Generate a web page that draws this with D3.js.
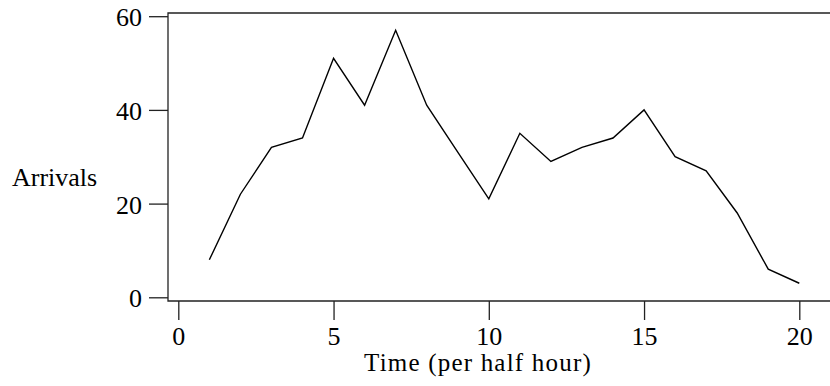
<!DOCTYPE html>
<html>
<head>
<meta charset="utf-8">
<script src="https://cdn.jsdelivr.net/npm/d3@7"></script>
<style>
  body { margin: 0; background: #fff; }
  svg text { font-family: "Liberation Serif", "Times New Roman", serif; fill: #000; }
</style>
</head>
<body>
<div id="chart"></div>
<script>
// data
const periods = [1, 2, 3, 4, 5, 6, 7, 8, 9, 10, 11, 12, 13, 14, 15, 16, 17, 18, 19, 20];
const arrivals = [8, 22, 32, 34, 51, 41, 57, 41, 31, 21, 35, 29, 32, 34, 40, 30, 27, 18, 6, 3];
const xTicks = [0, 5, 10, 15, 20];
const yTicks = [0, 20, 40, 60];
const xLabel = "Time (per half hour)";
const yLabel = "Arrivals";

const width = 830, height = 386;
const frame = { left: 168, top: 13, bottom: 301 };

const x = d3.scaleLinear().domain([0, 20]).range([178.3, 799.3]);
const y = d3.scaleLinear().domain([0, 60]).range([297.3, 16.2]);

const svg = d3.select("#chart").append("svg")
  .attr("width", width)
  .attr("height", height);

// frame: left, top and bottom sides (right side runs off the canvas)
svg.append("path")
  .attr("d", "M" + width + "," + frame.top + "H" + frame.left + "V" + frame.bottom + "H" + width)
  .attr("fill", "none")
  .attr("stroke", "#222")
  .attr("stroke-width", 1.3);

const xAxis = d3.axisBottom(x).tickValues(xTicks).tickSize(19).tickFormat(d3.format("d"));
const yAxis = d3.axisLeft(y).tickValues(yTicks).tickSize(19).tickFormat(d3.format("d"));

const gx = svg.append("g")
  .attr("transform", "translate(0," + frame.bottom + ")")
  .call(xAxis);
gx.select(".domain").remove();
gx.selectAll("line").attr("stroke", "#222").attr("stroke-width", 1.3);
gx.selectAll("text")
  .attr("y", 44).attr("dy", 0)
  .style("font-size", "26px")
  .style("font-family", "'Liberation Serif', serif")
  .attr("fill", "#000");

const gy = svg.append("g")
  .attr("transform", "translate(" + frame.left + ",0)")
  .call(yAxis);
gy.select(".domain").remove();
gy.selectAll("line").attr("stroke", "#222").attr("stroke-width", 1.3);
gy.selectAll("text")
  .attr("x", -26).attr("dy", "0.37em")
  .style("font-size", "26px")
  .style("font-family", "'Liberation Serif', serif")
  .attr("fill", "#000");

// arrivals line
const line = d3.line()
  .x((d, i) => x(periods[i]))
  .y(d => y(d));

svg.append("path")
  .datum(arrivals)
  .attr("d", line)
  .attr("fill", "none")
  .attr("stroke", "#000")
  .attr("stroke-width", 1.4)
  .attr("stroke-linejoin", "miter");

// axis titles
svg.append("text")
  .attr("x", 478)
  .attr("y", 371)
  .attr("text-anchor", "middle")
  .style("font-size", "25px")
  .style("letter-spacing", "1.2px")
  .text(xLabel);

svg.append("text")
  .attr("x", 12)
  .attr("y", 186)
  .style("font-size", "26px")
  .text(yLabel);
</script>
</body>
</html>
